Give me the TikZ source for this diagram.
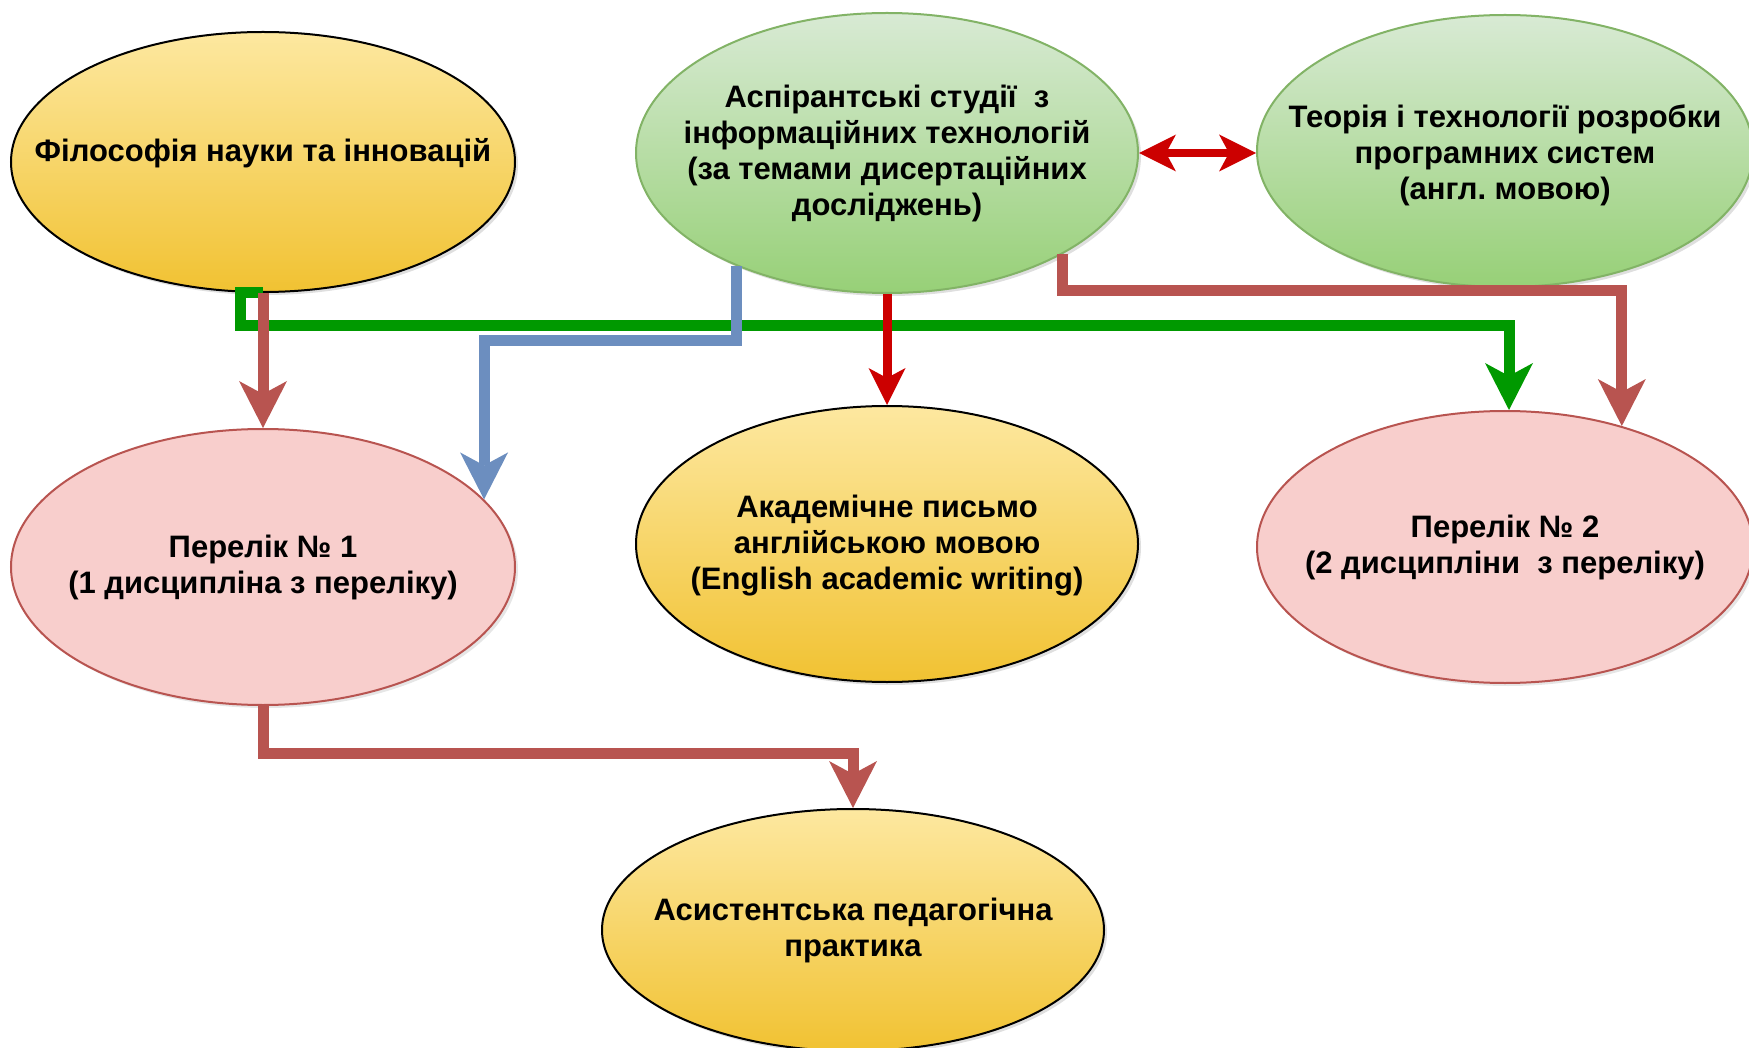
\documentclass[tikz,border=0pt]{standalone}
\usepackage{fontspec}
\setmainfont{Liberation Sans}
\usetikzlibrary{positioning,shapes.geometric,arrows.meta,shadows}

\definecolor{brd}{HTML}{B85450}
\definecolor{rd}{HTML}{CC0000}
\definecolor{gr}{HTML}{009900}
\definecolor{bl}{HTML}{6C8EBF}
\definecolor{grstroke}{HTML}{82B366}

\begin{document}
\begin{tikzpicture}[x=1pt,y=-1pt,
		yel/.style={ellipse,draw=black,line width=2pt,top color={rgb,255:red,253;green,232;blue,160},bottom color={rgb,255:red,241;green,194;blue,50},drop shadow={opacity=0.25,shadow xshift=3pt,shadow yshift=-3pt}},
		grn/.style={ellipse,draw=grstroke,line width=2pt,top color={rgb,255:red,216;green,234;blue,212},bottom color={rgb,255:red,151;green,208;blue,119},drop shadow={opacity=0.25,shadow xshift=3pt,shadow yshift=-3pt}},
		pnk/.style={ellipse,draw=brd,line width=2pt,fill={rgb,255:red,248;green,206;blue,204},drop shadow={opacity=0.2,shadow xshift=3pt,shadow yshift=-3pt}},
		txt/.style={font=\bfseries\fontsize{31}{36}\selectfont\frenchspacing,align=center},
		big/.style={line width=11pt,-{Stealth[length=47pt,width=48pt,inset=13pt,line width=0pt]}},
		small/.style={line width=9pt,-{Stealth[length=37pt,width=37pt,inset=10pt,line width=0pt]}}]

		\useasboundingbox (0,0) rectangle (1749,1048);

		\node[yel,minimum width=504pt,minimum height=260pt]					(phil)	at (263,162) {};
		\node[grn,minimum width=502pt,minimum height=280pt,right=119pt of phil,yshift=9pt]	(asp)	{};
		\node[grn,minimum width=496pt,minimum height=272pt,right=117pt of asp,yshift=2pt]	(teor)	{};
		\node[pnk,minimum width=504pt,minimum height=276pt,below=135pt of phil]	(per1)	{};
		\node[yel,minimum width=502pt,minimum height=276pt,below=111pt of asp]	(ak)	{};
		\node[pnk,minimum width=496pt,minimum height=272pt,below=122pt of teor]	(per2)	{};
		\node[yel,minimum width=502pt,minimum height=242pt,below=125pt of ak,xshift=-34pt]	(asist)	{};

		\node[txt,yshift=9pt] at (phil)	{Філософія науки та інновацій};
		\node[txt] at (asp)		{Аспірантські студії\ \ з\\інформаційних технологій\\(за темами дисертаційних\\досліджень)};
		\node[txt,yshift=-4pt] at (teor)	{Теорія і технології розробки\\програмних систем\\(англ. мовою)};
		\node[txt] at (per1)	{Перелік № 1\\(1 дисципліна з переліку)};
		\node[txt,yshift=-2pt] at (ak)		{Академічне письмо\\англійською мовою\\(English academic writing)};
		\node[txt] at (per2)	{Перелік № 2\\(2 дисципліни\ \ з переліку)};
		\node[txt] at (asist)	{Асистентська педагогічна\\практика};

		\coordinate (g1) at (240,326);
		\coordinate (b1) at (600,341);
		\coordinate (r1) at (1300,291);
		\coordinate (r2) at (500,753);

		\draw[big,gr] (phil.south) -| (g1) -| ([xshift=4pt]per2.north);
		\draw[big,bl] (asp.217) |- (b1) -| (per1.17);
		\draw[big,brd] (phil.south) -- (per1.north);
		\draw[small,rd] (asp.south) -- (ak.north);
		\draw[big,brd] (asp.330) |- (r1) -| (per2.46);
		\draw[big,brd] (per1.south) |- (r2) -| (asist.north);
		\draw[rd,line width=8pt,{Stealth[length=37pt,width=37pt,inset=10pt,line width=0pt]}-{Stealth[length=37pt,width=37pt,inset=10pt,line width=0pt]}] (asp.east) -- (asp.east -| teor.west);
	\end{tikzpicture}
\end{document}
